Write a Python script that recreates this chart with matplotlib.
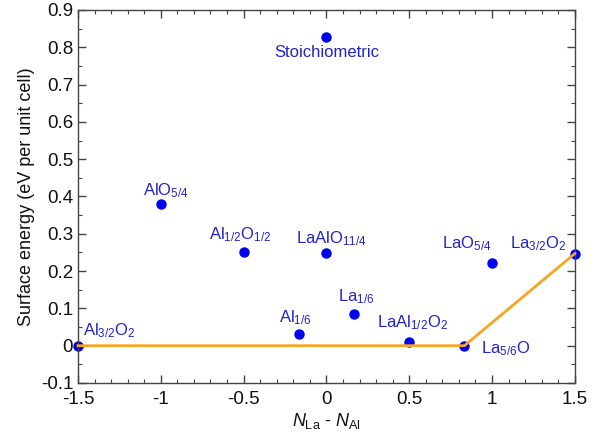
import matplotlib
matplotlib.use("Agg")
import matplotlib.pyplot as plt
from matplotlib.ticker import MultipleLocator

plt.rcParams['font.family'] = ['Liberation Sans', 'DejaVu Sans']
plt.rcParams['mathtext.fontset'] = 'custom'
plt.rcParams['mathtext.rm'] = 'Liberation Sans'
plt.rcParams['mathtext.it'] = 'Liberation Sans:italic'
plt.rcParams['mathtext.bf'] = 'Liberation Sans:bold'

# Datos: composicion (N_La - N_Al) y energia de superficie
names = ["Stoichiometric", r"AlO$_{5/4}$", r"Al$_{1/2}$O$_{1/2}$", r"LaAlO$_{11/4}$",
         r"LaO$_{5/4}$", r"La$_{3/2}$O$_2$", r"La$_{1/6}$", r"Al$_{1/6}$",
         r"LaAl$_{1/2}$O$_2$", r"La$_{5/6}$O", r"Al$_{3/2}$O$_2$"]
x_vals = [0.0, -1.0, -0.5, 0.0, 1.0, 1.5, 1/6, -1/6, 0.5, 5/6, -1.5]
energies = [0.828, 0.38, 0.25, 0.248, 0.222, 0.247, 0.086, 0.031, 0.009, 0.0, 0.0]

# posiciones de las etiquetas
label_x = [0.0, -0.97, -0.52, 0.03, 0.85, 1.28, 0.18, -0.19, 0.52, 1.08, -1.31]
label_y = [0.787, 0.415, 0.298, 0.288, 0.274, 0.274, 0.132, 0.076, 0.062, -0.007, 0.041]

# envolvente convexa (linea naranja)
hull_x = [-1.5, 5/6, 1.5]
hull_y = [0.0, 0.0, 0.247]

fig = plt.figure(figsize=(6.07, 4.36), dpi=100)
ax = fig.add_axes([0.1285, 0.1216, 0.8185, 0.8555])

ax.plot(x_vals, energies, 'o', color='#0000ee', markersize=6.5, zorder=2, clip_on=False)
ax.plot(hull_x, hull_y, '-', color='#f5a623', linewidth=2.0, zorder=3, clip_on=False)

for name, lx, ly in zip(names, label_x, label_y):
    ax.text(lx, ly, name, color='#2222cc', fontsize=12, ha='center', va='center')

ax.set_xlim(-1.5, 1.5)
ax.set_ylim(-0.1, 0.9)
ax.xaxis.set_major_locator(MultipleLocator(0.5))
ax.xaxis.set_minor_locator(MultipleLocator(0.1))
ax.yaxis.set_major_locator(MultipleLocator(0.1))
ax.yaxis.set_minor_locator(MultipleLocator(0.05))
ax.set_xticks([-1.5, -1, -0.5, 0, 0.5, 1, 1.5])
ax.set_xticklabels(["-1.5", "-1", "-0.5", "0", "0.5", "1", "1.5"])
ax.set_yticks([-0.1, 0, 0.1, 0.2, 0.3, 0.4, 0.5, 0.6, 0.7, 0.8, 0.9])
ax.set_yticklabels(["-0.1", "0", "0.1", "0.2", "0.3", "0.4", "0.5", "0.6", "0.7", "0.8", "0.9"])

ax.tick_params(which='both', direction='in', top=True, right=True, colors='#444444',
               labelcolor='#111111', labelsize=13.5)
ax.tick_params(which='major', length=6, width=1)
ax.tick_params(which='minor', length=3, width=0.8)
ax.tick_params(axis='x', pad=6)
for s in ax.spines.values():
    s.set_color('#444444')
    s.set_linewidth(1.0)

ax.set_xlabel(r"$N_{\mathrm{La}}$ - $N_{\mathrm{Al}}$", fontsize=13, color='#111111', labelpad=2)
ax.set_ylabel("Surface energy (eV per unit cell)", fontsize=13, color='#111111', labelpad=4)

fig.savefig("out.png", dpi=100)
